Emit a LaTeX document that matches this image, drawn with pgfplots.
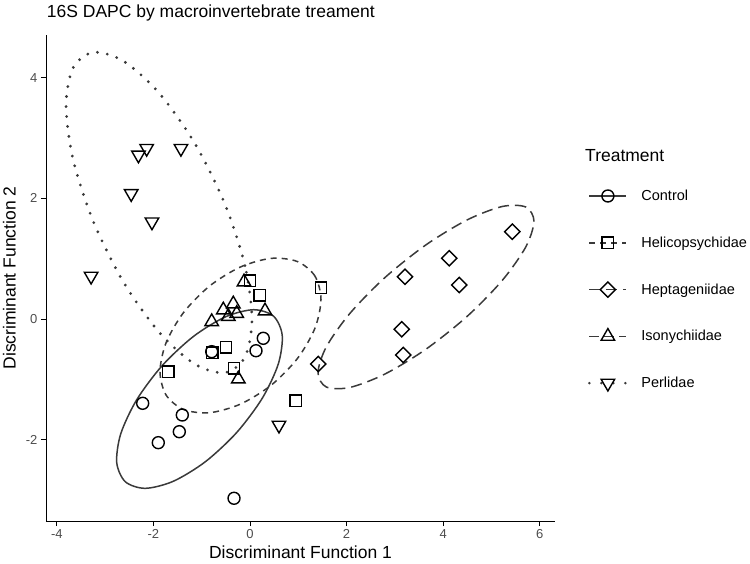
\documentclass[border=0pt]{standalone}
\usepackage{fontspec}
\setmainfont{Liberation Sans}
\usepackage{pgfplots}
\pgfplotsset{compat=1.18}
\definecolor{ecol}{HTML}{3A3A3A}
\definecolor{tickgray}{HTML}{4D4D4D}
\begin{document}
\begin{tikzpicture}[x=1pt,y=1pt]
\useasboundingbox (0,0) rectangle (750,563);
\begin{axis}[
  at={(46pt,42pt)}, anchor=south west,
  scale only axis, width=509pt, height=486pt,
  xmin=-4.224, xmax=6.315, ymin=-3.350, ymax=4.710,
  clip=false,
  axis x line*=bottom, axis y line*=left,
  axis line style={line width=0.9pt, -},
  xtick={-4,-2,0,2,4,6}, ytick={-2,0,2,4},
  tick align=outside, major tick length=5pt,
  tick style={line width=0.9pt, color=black},
  ticklabel style={font=\fontsize{13}{15}\selectfont, text=tickgray},
  /pgf/number format/assume math mode=true,
  xlabel={Discriminant Function 1}, ylabel={Discriminant Function 2},
  every axis x label/.style={at={(axis description cs:0.5,0)}, anchor=base, yshift=-37.5pt, font=\fontsize{17.5}{20}\selectfont},
  every axis y label/.style={at={(axis description cs:-0.0599,0.5)}, anchor=base, rotate=90, font=\fontsize{17.5}{20}\selectfont},
  title={16S DAPC by macroinvertebrate treament},
  every axis title/.style={at={(axis description cs:0.0014,1.0364)}, anchor=base west, font=\fontsize{17.5}{20}\selectfont, inner sep=0pt},
  legend style={draw=none, fill=none, at={(axis description cs:1.0648,0.7169)}, anchor=north west,
    inner sep=0pt, outer sep=0pt, row sep=0pt, font=\fontsize{14.5}{17}\selectfont,
    nodes={inner sep=0pt, minimum height=46.8pt}},
  legend cell align=left,
]
% ---- ellipses ----
\addplot[ecol, line width=1.5pt, smooth cycle, forget plot] coordinates {
 (0.488,0.046) (0.667,-0.270) (0.585,-0.748) (0.255,-1.313) (-0.274,-1.881) (-0.921,-2.365) (-1.585,-2.690) (-2.167,-2.808) (-2.580,-2.700) (-2.759,-2.384) (-2.677,-1.906) (-2.347,-1.341) (-1.818,-0.773) (-1.171,-0.289) (-0.507,0.036) (0.075,0.154)};
\addplot[ecol, line width=1.5pt, dash pattern=on 6pt off 5pt, smooth cycle, forget plot] coordinates {
 (1.470,0.325) (1.343,0.714) (0.982,0.953) (0.441,1.006) (-0.197,0.863) (-0.835,0.548) (-1.376,0.107) (-1.737,-0.392) (-1.864,-0.873) (-1.737,-1.262) (-1.376,-1.501) (-0.835,-1.554) (-0.197,-1.411) (0.441,-1.096) (0.982,-0.655) (1.343,-0.156)};
\addplot[ecol, line width=1.5pt, dash pattern=on 11pt off 6pt, smooth cycle, forget plot] coordinates {
 (5.880,1.622) (5.710,1.857) (5.225,1.866) (4.500,1.645) (3.644,1.230) (2.788,0.683) (2.063,0.088) (1.578,-0.465) (1.408,-0.892) (1.578,-1.127) (2.063,-1.136) (2.788,-0.915) (3.644,-0.500) (4.500,0.047) (5.225,0.642) (5.710,1.195)};
\addplot[ecol, line width=3.1pt, line cap=round, dash pattern=on 0pt off 10pt, smooth cycle, forget plot] coordinates {
 (0.041,-0.009) (-0.105,0.885) (-0.523,1.913) (-1.147,2.918) (-1.884,3.749) (-2.621,4.278) (-3.245,4.423) (-3.663,4.165) (-3.809,3.541) (-3.663,2.647) (-3.245,1.619) (-2.621,0.614) (-1.884,-0.217) (-1.147,-0.746) (-0.523,-0.891) (-0.105,-0.633)};
% ---- points ----
\addplot[only marks, mark=o, mark size=6.0pt, mark options={black, line width=1.4pt, solid},
  legend image code/.code={
    \path[draw=none, fill=none] (0pt,-12pt) rectangle (52pt,12pt);
    \draw[ecol, line width=1.5pt] (0pt,0pt) -- (37pt,0pt);
    \draw[black, line width=1.4pt, mark=o, mark size=6.0pt, mark options={solid}] plot coordinates {(18.5pt,0pt)};
  }] coordinates {
 (-0.793,-0.542) (0.275,-0.320) (0.124,-0.526) (-2.222,-1.398) (-1.402,-1.592) (-1.464,-1.869) (-1.899,-2.051) (-0.331,-2.973)};
\addlegendentry{Control}
\addplot[only marks, mark=square, mark size=5.7pt, mark options={black, line width=1.4pt, solid},
  legend image code/.code={
    \path[draw=none, fill=none] (0pt,-12pt) rectangle (52pt,12pt);
    \draw[ecol, line width=1.5pt, dash pattern=on 6pt off 5pt] (0pt,0pt) -- (37pt,0pt);
    \draw[black, line width=1.4pt, mark=square, mark size=5.7pt, mark options={solid}] plot coordinates {(18.5pt,0pt)};
  }] coordinates {
 (0.000,0.635) (0.197,0.390) (1.470,0.522) (-0.497,-0.469) (-0.781,-0.559) (-1.692,-0.874) (-0.331,-0.818) (0.942,-1.355)};
\addlegendentry{Helicopsychidae}
\addplot[only marks, mark=square, mark size=5.4pt, mark options={black, line width=1.4pt, solid, rotate=45},
  legend image code/.code={
    \path[draw=none, fill=none] (0pt,-12pt) rectangle (52pt,12pt);
    \draw[ecol, line width=1.5pt, dash pattern=on 11pt off 6pt] (0pt,0pt) -- (37pt,0pt);
    \draw[black, line width=1.4pt, mark=square, mark size=5.4pt, mark options={solid, rotate=45}] plot coordinates {(18.5pt,0pt)};
  }] coordinates {
 (5.431,1.448) (4.126,1.007) (3.209,0.702) (4.333,0.564) (3.141,-0.171) (3.174,-0.597) (1.414,-0.746)};
\addlegendentry{Heptageniidae}
\addplot[only marks, mark=triangle, mark size=7.8pt, mark options={black, line width=1.4pt, solid},
  legend image code/.code={
    \path[draw=none, fill=none] (0pt,-12pt) rectangle (52pt,12pt);
    \draw[ecol, line width=1.5pt, dash pattern=on 10pt off 5pt] (0pt,0pt) -- (37pt,0pt);
    \draw[black, line width=1.4pt, mark=triangle, mark size=7.8pt, mark options={solid}] plot coordinates {(18.5pt,0pt)};
  }] coordinates {
 (-0.124,0.614) (-0.346,0.249) (-0.553,0.149) (-0.449,0.041) (-0.275,0.091) (-0.793,-0.045) (0.311,0.133) (-0.242,-0.995)};
\addlegendentry{Isonychiidae}
\addplot[only marks, mark=triangle, mark size=7.8pt, mark options={black, line width=1.4pt, solid, rotate=180},
  legend image code/.code={
    \path[draw=none, fill=none] (0pt,-12pt) rectangle (52pt,12pt);
    \draw[ecol, line width=2.8pt, line cap=round, dash pattern=on 0pt off 12pt] (0pt,0pt) -- (37pt,0pt);
    \draw[black, line width=1.4pt, mark=triangle, mark size=7.8pt, mark options={solid, rotate=180}] plot coordinates {(18.5pt,0pt)};
  }] coordinates {
 (-2.14,2.83) (-2.31,2.72) (-1.43,2.83) (-2.46,2.08) (-2.03,1.61) (-3.29,0.71) (0.60,-1.76)};
\addlegendentry{Perlidae}
\end{axis}
\node[anchor=base west, inner sep=0pt, font=\fontsize{17.5}{20}\selectfont] at (585,401.3) {Treatment};
\end{tikzpicture}
\end{document}
